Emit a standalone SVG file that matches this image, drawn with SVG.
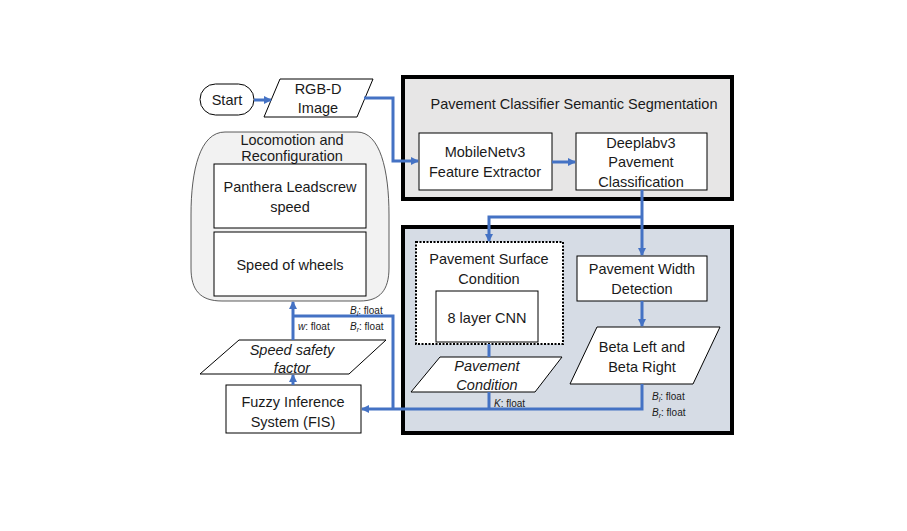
<svg xmlns="http://www.w3.org/2000/svg" width="907" height="531" viewBox="0 0 907 531">
<style>
text{font-family:"Liberation Sans",Arial,sans-serif;font-size:14.5px;fill:#1a1a1a;text-anchor:middle}
.it{font-style:italic}
.sm{font-size:10px;text-anchor:start}
.box{fill:#fff;stroke:#000;stroke-width:1}
.con{fill:none;stroke:#4472c4;stroke-width:3}
</style>
<defs>
<marker id="ah" markerWidth="8" markerHeight="8" refX="7" refY="4" orient="auto" markerUnits="userSpaceOnUse">
<path d="M0,0 L8,4 L0,8 Z" fill="#4472c4"/>
</marker>
</defs>
<g id="seg-panel">
<rect x="403" y="77" width="329" height="122" fill="#e7e6e6" stroke="#000" stroke-width="4"/>
<text x="574" y="109">Pavement Classifier Semantic Segmentation</text>
</g>
<g id="width-panel">
<rect x="403" y="227" width="329" height="206" fill="#d6dce5" stroke="#000" stroke-width="4"/>
</g>
<g id="start">
<rect x="200" y="84" width="54" height="31" rx="15.5" class="box"/>
<text x="227" y="105">Start</text>
</g>
<g id="rgbd">
<polygon points="280,79 373,79 357,117 264,117" class="box" stroke-width="0.8" stroke="#333"/>
<text x="318" y="94">RGB-D</text>
<text x="318" y="113">Image</text>
</g>
<g id="locomotion">
<path d="M225,132 L357,132 C380,132 389,170 389,215 L389,268 C389,290 380,301 360,301 L222,301 C200,301 191,290 191,268 L191,215 C191,170 200,132 225,132 Z" fill="#f2f2f2" stroke="#333" stroke-width="0.8"/>
<text x="292" y="145" font-size="14">Locomotion and</text>
<text x="292" y="161" font-size="14">Reconfiguration</text>
</g>
<g id="panthera">
<rect x="214" y="164" width="152" height="64" class="box"/>
<text x="290" y="192">Panthera Leadscrew</text>
<text x="290" y="212">speed</text>
</g>
<g id="wheels">
<rect x="214" y="232" width="152" height="64" class="box"/>
<text x="290" y="270">Speed of wheels</text>
</g>
<g id="safety">
<polygon points="239,340 386,340 349,374 200,374" class="box" stroke-width="0.8" stroke="#333"/>
<text x="292" y="355" class="it">Speed safety</text>
<text x="292" y="373" class="it">factor</text>
</g>
<g id="fis">
<rect x="226" y="385" width="135" height="48" class="box"/>
<text x="293" y="407">Fuzzy Inference</text>
<text x="293" y="427">System (FIS)</text>
</g>
<g id="mobilenet">
<rect x="419" y="133" width="133" height="57" class="box"/>
<text x="485" y="157">MobileNetv3</text>
<text x="485" y="177">Feature Extractor</text>
</g>
<g id="deeplab">
<rect x="576" y="133" width="131" height="57" class="box"/>
<text x="641" y="148">Deeplabv3</text>
<text x="641" y="167">Pavement</text>
<text x="641" y="187">Classification</text>
</g>
<g id="surface">
<rect x="416" y="242" width="147" height="102" fill="#fff" stroke="#000" stroke-width="2" stroke-dasharray="2,1.5"/>
<text x="489" y="264">Pavement Surface</text>
<text x="489" y="284">Condition</text>
</g>
<g id="cnn">
<rect x="436" y="291" width="102" height="51" class="box"/>
<text x="487" y="323">8 layer CNN</text>
</g>
<g id="pwd">
<rect x="577" y="256" width="130" height="45" class="box"/>
<text x="642" y="274">Pavement Width</text>
<text x="642" y="294">Detection</text>
</g>
<g id="pavcond">
<polygon points="440,357 562,357 535,392 411,392" class="box" stroke-width="0.8" stroke="#333"/>
<text x="487" y="371" class="it">Pavement</text>
<text x="487" y="390" class="it">Condition</text>
</g>
<g id="beta">
<polygon points="597,327 720,327 693,384 570,384" class="box" stroke-width="0.8" stroke="#333"/>
<text x="642" y="352">Beta Left and</text>
<text x="642" y="372">Beta Right</text>
</g>
<g id="connectors">
<path d="M254,100 L271,100" class="con" marker-end="url(#ah)"/>
<path d="M364,98 L393,98 L393,161 L418,161" class="con" marker-end="url(#ah)"/>
<path d="M552,162 L575,162" class="con" marker-end="url(#ah)"/>
<path d="M642,190 L642,255" class="con" marker-end="url(#ah)"/>
<path d="M642,217 L489,217 L489,241" class="con" marker-end="url(#ah)"/>
<path d="M642,301 L642,326" class="con" marker-end="url(#ah)"/>
<path d="M489,344 L489,357" class="con"/>
<path d="M489,392 L489,409" class="con"/>
<path d="M642,384 L642,409 L362,409" class="con" marker-end="url(#ah)"/>
<path d="M393,409 L393,316 L293,316" class="con"/>
<path d="M293,340 L293,302" class="con" marker-end="url(#ah)"/>
<path d="M293,385 L293,375" class="con" marker-end="url(#ah)"/>
</g>
<g id="labels">
<text x="298" y="330" class="sm"><tspan class="it">w</tspan>: float</text>
<text x="350" y="314" class="sm"><tspan class="it">B</tspan><tspan class="it" font-size="7" dy="2">l</tspan><tspan dy="-2">: float</tspan></text>
<text x="350" y="330" class="sm"><tspan class="it">B</tspan><tspan class="it" font-size="7" dy="2">r</tspan><tspan dy="-2">: float</tspan></text>
<text x="494" y="407" class="sm"><tspan class="it">K</tspan>: float</text>
<text x="652" y="400" class="sm"><tspan class="it">B</tspan><tspan class="it" font-size="7" dy="2">l</tspan><tspan dy="-2">: float</tspan></text>
<text x="652" y="416" class="sm"><tspan class="it">B</tspan><tspan class="it" font-size="7" dy="2">r</tspan><tspan dy="-2">: float</tspan></text>
</g>
</svg>
